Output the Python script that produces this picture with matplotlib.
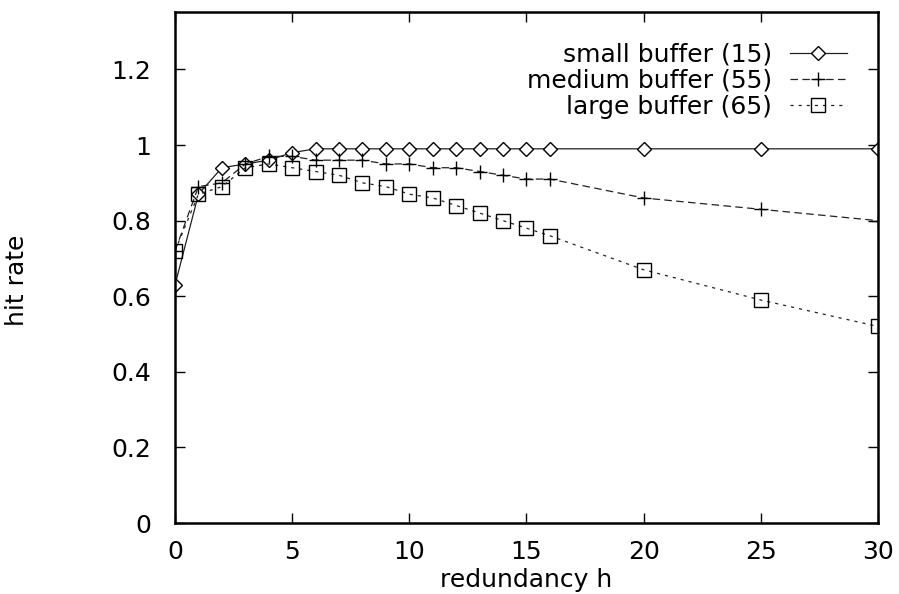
import matplotlib
matplotlib.use("Agg")
import matplotlib.pyplot as plt

plt.rcParams['font.family'] = ['DejaVu Sans']

# redundancy values
h = [0, 1, 2, 3, 4, 5, 6, 7, 8, 9, 10, 11, 12, 13, 14, 15, 16, 20, 25, 30]

small = [0.63, 0.87, 0.94, 0.95, 0.96, 0.98, 0.99, 0.99, 0.99, 0.99, 0.99,
         0.99, 0.99, 0.99, 0.99, 0.99, 0.99, 0.99, 0.99, 0.99]
medium = [0.72, 0.89, 0.90, 0.95, 0.97, 0.97, 0.96, 0.96, 0.96, 0.95, 0.95,
          0.94, 0.94, 0.93, 0.92, 0.91, 0.91, 0.86, 0.83, 0.80]
large = [0.72, 0.87, 0.89, 0.94, 0.95, 0.94, 0.93, 0.92, 0.90, 0.89, 0.87,
         0.86, 0.84, 0.82, 0.80, 0.78, 0.76, 0.67, 0.59, 0.52]

xticks = [0, 5, 10, 15, 20, 25, 30]
yticks = [0, 0.2, 0.4, 0.6, 0.8, 1, 1.2]
ytick_labels = ['0', '0.2', '0.4', '0.6', '0.8', '1', '1.2']

fig = plt.figure(figsize=(8.99, 5.94), dpi=100)
ax = fig.add_axes([0.1947, 0.1195, 0.7819, 0.8603])

ax.plot(h, small, color='#222222', lw=0.9, marker='D', ms=7, mfc='white',
        mec='black', mew=1, label='small buffer (15)')
ax.plot(h, medium, color='#222222', lw=0.9, ls=(0, (6, 3.5)), marker='+', ms=10,
        mec='black', mew=1, label='medium buffer (55)')
ax.plot(h, large, color='#222222', lw=0.9, ls=(0, (2.5, 4)), marker='s', ms=10,
        mfc='none', mec='black', mew=1, label='large buffer (65)')

ax.set_xlim(0, 30)
ax.set_ylim(0, 1.352)
ax.set_xticks(xticks)
ax.set_yticks(yticks, ytick_labels)
ax.tick_params(direction='in', top=True, right=True, length=7, width=1,
               labelsize=18)
ax.tick_params(axis='y', pad=17)
ax.tick_params(axis='x', pad=12)
for s in ax.spines.values():
    s.set_linewidth(1.8)

ax.set_xlabel('redundancy h', fontsize=18, labelpad=3)
ax.set_ylabel('hit rate', fontsize=18)
ax.yaxis.set_label_coords(-0.208, 0.475)

ax.legend(loc='upper right', frameon=False, markerfirst=False, fontsize=18,
          handlelength=2.3, handletextpad=0.7, labelspacing=0.08,
          borderpad=0, borderaxespad=0, bbox_to_anchor=(0.956, 0.94))

fig.savefig('out.png', dpi=100)
